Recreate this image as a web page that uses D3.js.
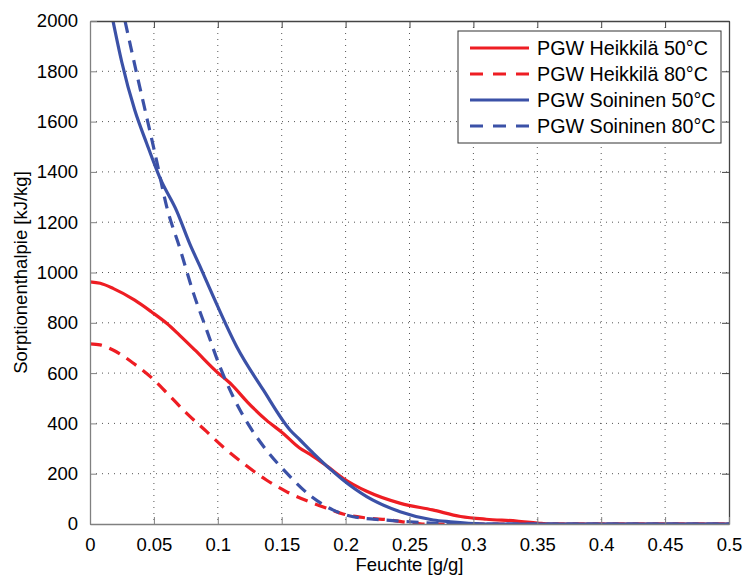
<!DOCTYPE html>
<html>
<head>
<meta charset="utf-8">
<script src="https://cdn.jsdelivr.net/npm/d3@7"></script>
<style>
  html, body { margin: 0; padding: 0; background: #fff; }
  svg { display: block; font-family: "Liberation Sans", Arial, Helvetica, sans-serif; }
</style>
</head>
<body>
<svg id="chart" width="746" height="579"></svg>
<script>
// ---- data ----
const xTicks = [0, 0.05, 0.1, 0.15, 0.2, 0.25, 0.3, 0.35, 0.4, 0.45, 0.5];
const xTickLabels = ["0", "0.05", "0.1", "0.15", "0.2", "0.25", "0.3", "0.35", "0.4", "0.45", "0.5"];
const yTicks = [0, 200, 400, 600, 800, 1000, 1200, 1400, 1600, 1800, 2000];

const seriesNames = ["PGW Heikkilä 50°C", "PGW Heikkilä 80°C", "PGW Soininen 50°C", "PGW Soininen 80°C"];

const heikkila50 = [[0,963],[0.008,957],[0.018,937],[0.035,890],[0.048,844],[0.06,798],[0.07,751],[0.082,692],
  [0.099,606],[0.111,553],[0.123,486],[0.138,413],[0.151,361],[0.164,302],[0.172,278],[0.186,228],[0.198,182],
  [0.2165,130],[0.243,82],[0.268,56],[0.29,30],[0.31,19],[0.334,12],[0.35,4],[0.36,0],[0.5,0]];
const heikkila80 = [[0,716],[0.008,712],[0.018,692],[0.034,639],[0.0496,575],[0.06,522],[0.0757,440],[0.0913,367],
  [0.104,307],[0.12,241],[0.138,175],[0.154,128],[0.175,82],[0.188,58],[0.198,40],[0.2165,24],[0.235,16],
  [0.25,5],[0.26,0],[0.5,0]];
const soininen50 = [[0.018,2000],[0.0248,1838],[0.035,1646],[0.0443,1514],[0.0548,1375],[0.0678,1245],[0.078,1115],
  [0.086,1025],[0.0965,904],[0.1148,705],[0.1356,533],[0.1565,374],[0.164,336],[0.1748,281],[0.188,218],
  [0.198,175],[0.2165,109],[0.2426,49],[0.2686,16],[0.282,9],[0.3,2],[0.31,0],[0.5,0]];
const soininen80 = [[0.0274,2000],[0.0365,1792],[0.0443,1619],[0.052,1447],[0.06,1262],[0.0704,1095],[0.081,917],
  [0.0913,771],[0.1017,625],[0.112,506],[0.125,387],[0.138,294],[0.154,202],[0.174,106],[0.19,56],[0.206,29],
  [0.23,16],[0.25,9],[0.27,3],[0.28,0],[0.5,0]];

const seriesData = [heikkila50, heikkila80, soininen50, soininen80];
const seriesColors = ["#ee1d23", "#ee1d23", "#3b51a7", "#3b51a7"];
const seriesDash = [null, "12,8", null, "12,8"];

// ---- layout ----
const svg = d3.select("#chart");
const L = 90, R = 729, T = 21, B = 524;
const x = d3.scaleLinear().domain([0, 0.5]).range([L, R]);
const y = d3.scaleLinear().domain([0, 2000]).range([B, T]);

const fs = 18.5;

// grid
const grid = svg.append("g");
grid.selectAll("line.gx").data(xTicks.slice(1, -1)).join("line")
  .attr("x1", d => x(d)).attr("x2", d => x(d)).attr("y1", T).attr("y2", B)
  .attr("stroke", "#555").attr("stroke-width", 1).attr("stroke-dasharray", "1,5");
grid.selectAll("line.gy").data(yTicks.slice(1, -1)).join("line")
  .attr("x1", L).attr("x2", R).attr("y1", d => y(d)).attr("y2", d => y(d))
  .attr("stroke", "#555").attr("stroke-width", 1).attr("stroke-dasharray", "1,5");

// clip
svg.append("clipPath").attr("id", "clip").append("rect")
  .attr("x", L).attr("y", T).attr("width", R - L).attr("height", B - T);

// lines
const line = d3.line().x(d => x(d[0])).y(d => y(d[1])).curve(d3.curveMonotoneX);
const lines = svg.append("g").attr("clip-path", "url(#clip)");
seriesData.forEach((data, i) => {
  lines.append("path").datum(data)
    .attr("d", line)
    .attr("fill", "none")
    .attr("stroke", seriesColors[i])
    .attr("stroke-width", 3.2)
    .attr("stroke-linejoin", "round")
    .attr("stroke-dasharray", seriesDash[i]);
});

// axes (MATLAB style, inner ticks)
const tickLen = 7;
const xAxisB = d3.axisBottom(x).tickValues(xTicks).tickFormat((d, i) => xTickLabels[i]).tickSizeInner(-tickLen).tickSizeOuter(0).tickPadding(14);
const yAxisL = d3.axisLeft(y).tickValues(yTicks).tickFormat(d3.format("d")).tickSizeInner(-tickLen).tickSizeOuter(0).tickPadding(12);
const xAxisT = d3.axisTop(x).tickValues(xTicks).tickFormat("").tickSizeInner(-tickLen).tickSizeOuter(0);
const yAxisR = d3.axisRight(y).tickValues(yTicks).tickFormat("").tickSizeInner(-tickLen).tickSizeOuter(0);

function styleAxis(g, col) {
  g.select(".domain").attr("stroke", col).attr("stroke-width", 1.3);
  g.selectAll(".tick line").attr("stroke", col).attr("stroke-width", 1);
  g.selectAll(".tick text").attr("fill", "#000").attr("font-size", fs)
    .attr("font-family", "'Liberation Sans', Arial, sans-serif");
}
svg.append("g").attr("transform", `translate(0,${T})`).call(xAxisT).call(g => styleAxis(g, "#444"));
svg.append("g").attr("transform", `translate(${R},0)`).call(yAxisR).call(g => styleAxis(g, "#444"));
svg.append("g").attr("transform", `translate(0,${B})`).call(xAxisB).call(g => styleAxis(g, "#808080"));
svg.append("g").attr("transform", `translate(${L},0)`).call(yAxisL).call(g => styleAxis(g, "#808080"));

// axis titles
svg.append("text").attr("x", (L + R) / 2).attr("y", 571).attr("text-anchor", "middle")
  .attr("font-size", fs).text("Feuchte [g/g]");
svg.append("text").attr("transform", `translate(27,${(T + B) / 2}) rotate(-90)`).attr("text-anchor", "middle")
  .attr("font-size", fs).text("Sorptionenthalpie [kJ/kg]");

// legend
const lg = svg.append("g");
lg.append("rect").attr("x", 458).attr("y", 31).attr("width", 263).attr("height", 112)
  .attr("fill", "#fff").attr("stroke", "#333").attr("stroke-width", 1);
const rowY = [48, 74, 100, 126];
seriesNames.forEach((name, i) => {
  lg.append("line").attr("x1", 470).attr("x2", 529).attr("y1", rowY[i]).attr("y2", rowY[i])
    .attr("stroke", seriesColors[i]).attr("stroke-width", 3.2)
    .attr("stroke-dasharray", seriesDash[i] ? "13,10" : null);
  lg.append("text").attr("x", 537).attr("y", rowY[i]).attr("dy", "0.36em")
    .attr("font-size", 19.7).attr("fill", "#000").text(name);
});
</script>
</body>
</html>
